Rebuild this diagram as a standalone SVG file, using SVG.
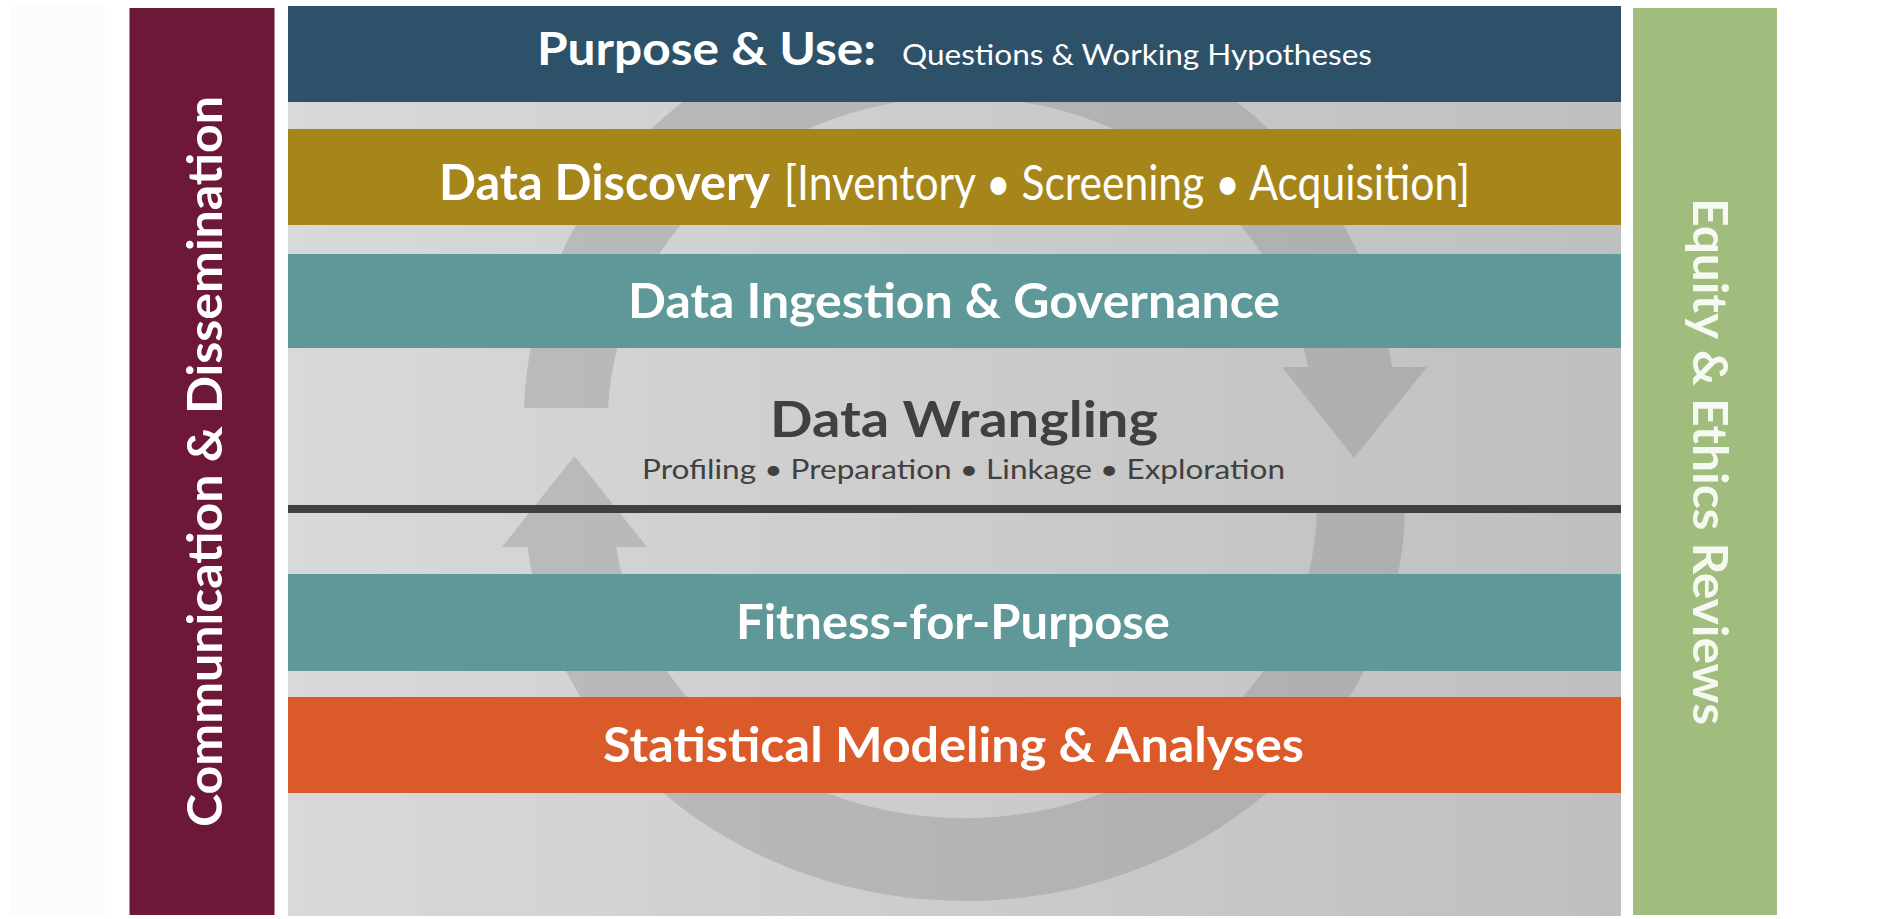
<svg xmlns="http://www.w3.org/2000/svg" width="1879" height="919" viewBox="0 0 1879 919">
  <defs>
    <linearGradient id="bgGrad" gradientUnits="userSpaceOnUse" x1="288" y1="0" x2="1621" y2="0">
      <stop offset="0" stop-color="#d9d9d9"/>
      <stop offset="1" stop-color="#bfbfbf"/>
    </linearGradient>
    <linearGradient id="ringGrad" gradientUnits="userSpaceOnUse" x1="288" y1="0" x2="1621" y2="0">
      <stop offset="0" stop-color="#bdbdbd"/>
      <stop offset="1" stop-color="#acacac"/>
    </linearGradient>
    <style>
      .band-title { font-family: Lato, "Open Sans", "DejaVu Sans", sans-serif; font-weight: 700; fill: #ffffff; }
      .band-sub { font-family: Lato, "Open Sans", "DejaVu Sans", sans-serif; font-weight: 400; fill: #ffffff; }
      .dark-title { font-family: Lato, "Open Sans", "DejaVu Sans", sans-serif; font-weight: 700; fill: #404040; }
      .dark-sub { font-family: Lato, "Open Sans", "DejaVu Sans", sans-serif; font-weight: 400; fill: #404040; }
      .side-text { font-family: Lato, "Open Sans", "DejaVu Sans", sans-serif; font-weight: 700; font-size: 48px; }
      .ring { fill: url(#ringGrad); }
    </style>
  </defs>

  <rect x="0" y="0" width="1879" height="919" fill="#ffffff"/>
  <rect x="10" y="6" width="95" height="910" fill="#fcfcfc"/>

  <g id="panel">
    <rect x="288" y="6" width="1333" height="910" fill="url(#bgGrad)"/>
  </g>

  <g id="connectors">
    <path class="ring" d="M 524 408 A 436 414 0 0 1 1392 367 L 1427 367 L 1354 458 L 1282 367 L 1308 367 A 353 328 0 0 0 608 408 Z"/>
    <path class="ring" d="M 1405 507 A 440 397 0 0 1 527.6 547 L 502 547 L 574.5 456 L 647 547 L 616.3 547 A 352 314 0 0 0 1317 507 Z"/>
  </g>

  <g id="communication">
    <rect x="129.5" y="8" width="145" height="907" fill="#6d1839"/>
    <text class="side-text" fill="#ffffff" text-anchor="middle" transform="translate(222 461.5) rotate(-90)" textLength="731" lengthAdjust="spacingAndGlyphs">Communication &amp; Dissemination</text>
  </g>

  <g id="equity">
    <rect x="1633" y="8" width="144" height="907" fill="#a0bd7e"/>
    <text class="side-text" fill="#f6f9f1" text-anchor="middle" transform="translate(1693 461.5) rotate(90)" textLength="527" lengthAdjust="spacingAndGlyphs">Equity &amp; Ethics Reviews</text>
  </g>

  <g id="purpose-use">
    <rect x="288" y="6" width="1333" height="96" fill="#2d5169"/>
    <text class="band-title" x="537" y="65" font-size="45" textLength="339" lengthAdjust="spacingAndGlyphs">Purpose &amp; Use:</text>
    <text class="band-sub" x="902" y="65" font-size="28" textLength="470" lengthAdjust="spacingAndGlyphs">Questions &amp; Working Hypotheses</text>
  </g>

  <g id="data-discovery">
    <rect x="288" y="129" width="1333" height="96" fill="#a6861a"/>
    <text class="band-title" x="439" y="200" font-size="49" textLength="331" lengthAdjust="spacingAndGlyphs">Data Discovery</text>
    <text class="band-sub" x="784" y="200" font-size="49" textLength="686" lengthAdjust="spacingAndGlyphs">[Inventory • Screening • Acquisition]</text>
  </g>

  <g id="data-ingestion">
    <rect x="288" y="254" width="1333" height="94" fill="#5e9898"/>
    <text class="band-title" x="628" y="318" font-size="48" textLength="652" lengthAdjust="spacingAndGlyphs">Data Ingestion &amp; Governance</text>
  </g>

  <g id="data-wrangling">
    <text class="dark-title" x="770" y="437" font-size="50" textLength="388" lengthAdjust="spacingAndGlyphs">Data Wrangling</text>
    <text class="dark-sub" x="642" y="479" font-size="27" textLength="643" lengthAdjust="spacingAndGlyphs">Profiling • Preparation • Linkage • Exploration</text>
    <rect x="288" y="505" width="1333" height="8" fill="#404040"/>
  </g>

  <g id="fitness">
    <rect x="288" y="574" width="1333" height="97" fill="#5e9898"/>
    <text class="band-title" x="736" y="639" font-size="48" textLength="434" lengthAdjust="spacingAndGlyphs">Fitness-for-Purpose</text>
  </g>

  <g id="statistical">
    <rect x="288" y="697" width="1333" height="96" fill="#da5a2a"/>
    <text class="band-title" x="603" y="762" font-size="48" textLength="701" lengthAdjust="spacingAndGlyphs">Statistical Modeling &amp; Analyses</text>
  </g>
</svg>
